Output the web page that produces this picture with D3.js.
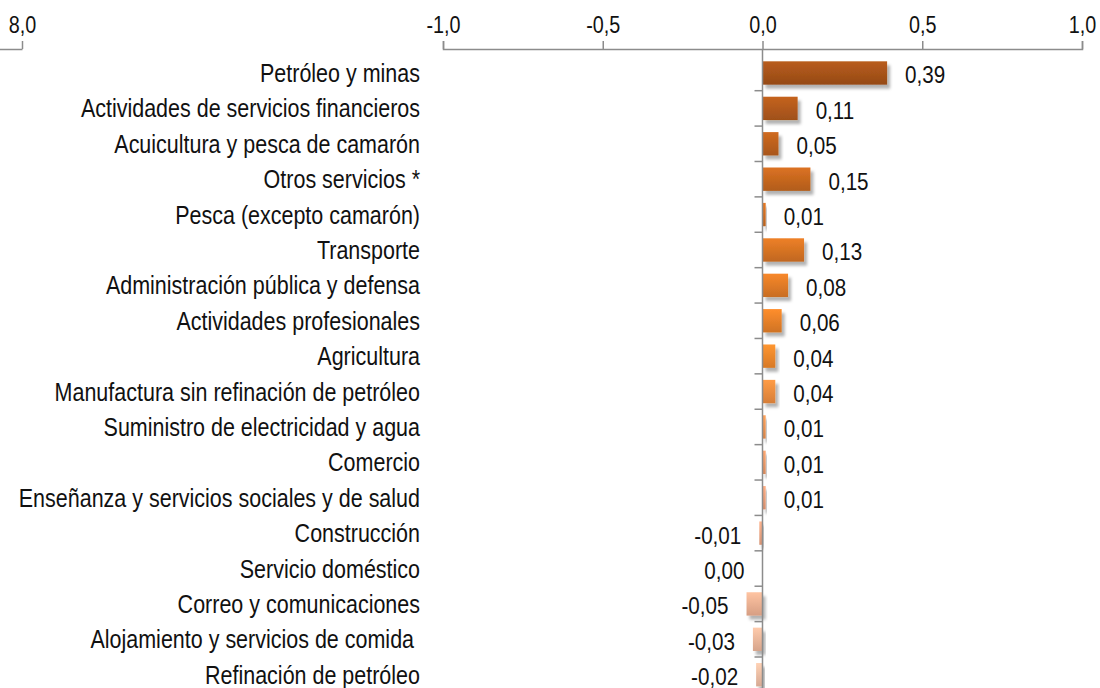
<!DOCTYPE html>
<html>

<head>
    <style>
        body { margin: 0; background: #fff; }
        text { font-family: "Liberation Sans", Arial, sans-serif; fill: #111; }
    </style>
</head>

<body>
    <script src="https://d3js.org/d3.v7.min.js"></script>
    <div id="chart"></div>
    <script>
        const width = 1100
        const height = 688

        const categories = [
            "Petróleo y minas",
            "Actividades de servicios financieros",
            "Acuicultura y pesca de camarón",
            "Otros servicios *",
            "Pesca (excepto camarón)",
            "Transporte",
            "Administración pública y defensa",
            "Actividades profesionales",
            "Agricultura",
            "Manufactura sin refinación de petróleo",
            "Suministro de electricidad y agua",
            "Comercio",
            "Enseñanza y servicios sociales y de salud",
            "Construcción",
            "Servicio doméstico",
            "Correo y comunicaciones",
            "Alojamiento y servicios de comida ",
            "Refinación de petróleo"
        ]
        const values = [0.39, 0.11, 0.05, 0.15, 0.01, 0.13, 0.08, 0.06, 0.04, 0.04, 0.01, 0.01, 0.01, -0.01, 0.00, -0.05, -0.03, -0.02]
        const xTicks = [-1, -0.5, 0, 0.5, 1]
        const leftTicks = [8]

        const locale = d3.formatLocale({ decimal: ",", thousands: ".", grouping: [3], currency: ["", ""], minus: "-" })
        const fmt1 = locale.format(".1f")
        const fmt2 = locale.format(".2f")

        // no narrow font installed: squeeze the text horizontally instead
        const narrow = 0.86

        const svg = d3.select("#chart").append("svg")
            .attr("width", width).attr("height", height)

        const axisY = 49
        const xScale = d3.scaleLinear().domain([-1, 1]).range([443, 1082])
        const yScale = d3.scaleBand().domain(categories)
            .range([55.3, 692.4]).paddingInner(0.34).paddingOuter(0.17)

        // colour ramp from brown (top) to salmon (bottom)
        const colorScale = d3.scaleLinear()
            .domain([0, 3, 8, 12, 17])
            .range(["#a9541a", "#c9681f", "#f4892c", "#f0a07a", "#f3c0a6"])
            .interpolate(d3.interpolateRgb)

        const defs = svg.append("defs")
        const shadow = defs.append("filter").attr("id", "shadow")
            .attr("x", "-20%").attr("y", "-20%").attr("width", "150%").attr("height", "160%")
        shadow.append("feDropShadow")
            .attr("dx", 3).attr("dy", 4).attr("stdDeviation", 1.5)
            .attr("flood-color", "#000").attr("flood-opacity", 0.3)

        categories.forEach((c, i) => {
            const base = d3.color(colorScale(i))
            const g = defs.append("linearGradient").attr("id", "grad" + i)
                .attr("x1", 0).attr("y1", 0).attr("x2", 0).attr("y2", 1)
            g.append("stop").attr("offset", "0%").attr("stop-color", base.brighter(0.25))
            g.append("stop").attr("offset", "100%").attr("stop-color", base.darker(0.35))
        })

        // top value axis
        const xAxis = d3.axisTop(xScale).tickValues(xTicks).tickFormat(fmt1)
            .tickSize(8).tickSizeOuter(8).tickPadding(8)
        const gx = svg.append("g")
            .attr("transform", "translate(0," + axisY + ")")
            .call(xAxis)

        // partial axis of a neighbouring chart at the left edge
        const leftScale = d3.scaleLinear().domain([0, 8]).range([-300, 22])
        const leftAxis = d3.axisTop(leftScale).tickValues(leftTicks).tickFormat(fmt1)
            .tickSize(8).tickSizeOuter(0).tickPadding(8)
        const gl = svg.append("g")
            .attr("transform", "translate(0," + axisY + ")")
            .call(leftAxis)

        ;[gx, gl].forEach(g => {
            g.selectAll("path, line").attr("stroke", "#8c8c8c").attr("stroke-width", 1.5)
            g.selectAll("text")
                .attr("font-size", 23)
                .style("font-family", "\"Liberation Sans\", Arial, sans-serif")
                .attr("fill", "#111")
                .attr("transform", "scale(" + narrow + ",1)")
        })

        // bars
        svg.append("g").selectAll("rect")
            .data(values)
            .enter()
            .append("rect")
            .attr("x", d => xScale(Math.min(0, d)))
            .attr("y", (d, i) => yScale(categories[i]))
            .attr("width", d => Math.abs(xScale(d) - xScale(0)))
            .attr("height", yScale.bandwidth())
            .attr("fill", (d, i) => "url(#grad" + i + ")")
            .attr("filter", "url(#shadow)")

        // category axis
        const x0 = xScale(0)
        svg.append("line")
            .attr("x1", x0).attr("x2", x0)
            .attr("y1", axisY).attr("y2", height)
            .attr("stroke", "#8c8c8c").attr("stroke-width", 1.5)

        const gap = (yScale.step() - yScale.bandwidth()) / 2
        svg.append("g").selectAll("line")
            .data(categories.slice(1))
            .enter()
            .append("line")
            .attr("x1", x0 - 8).attr("x2", x0)
            .attr("y1", d => yScale(d) - gap)
            .attr("y2", d => yScale(d) - gap)
            .attr("stroke", "#8c8c8c").attr("stroke-width", 1.5)

        // category labels
        svg.append("g").selectAll("text")
            .data(categories)
            .enter()
            .append("text")
            .attr("transform", d => "translate(420," + (yScale(d) + yScale.bandwidth() / 2 + 9) + ") scale(" + narrow + ",1)")
            .attr("text-anchor", "end")
            .attr("font-size", 25)
            .style("white-space", "pre")
            .text(d => d)

        // value labels
        svg.append("g").selectAll("text")
            .data(values)
            .enter()
            .append("text")
            .attr("transform", (d, i) => {
                const x = d > 0 ? xScale(d) + 18 : xScale(d) - 18
                const y = yScale(categories[i]) + yScale.bandwidth() / 2 + 10.5
                return "translate(" + x + "," + y + ") scale(" + narrow + ",1)"
            })
            .attr("text-anchor", d => d > 0 ? "start" : "end")
            .attr("font-size", 24)
            .text(d => fmt2(d))
    </script>
</body>

</html>
